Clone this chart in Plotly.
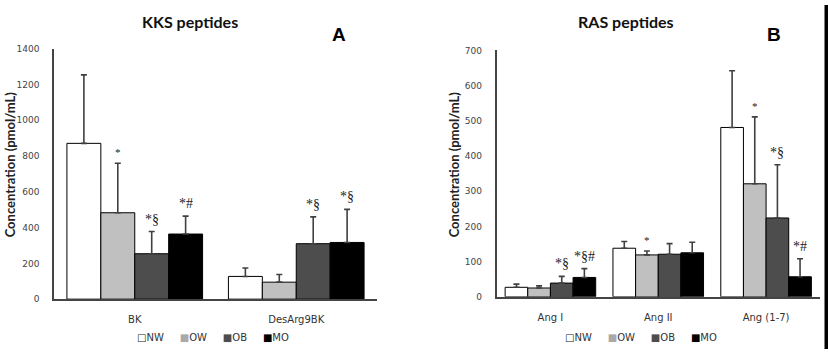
import plotly.graph_objects as go

groups = ["NW", "OW", "OB", "MO"]
colors = ["#ffffff", "#c0c0c0", "#4d4d4d", "#000000"]
legend_glyphs = ["□", "■", "■", "■"]
legend_glyph_colors = ["#222222", "#a9a9a9", "#4d4d4d", "#000000"]

kks_cats = ["BK", "DesArg9BK"]
kks_vals = {"NW": [871, 127], "OW": [483, 95], "OB": [254, 310], "MO": [364, 317]}
kks_err = {"NW": [383, 47], "OW": [277, 43], "OB": [124, 150], "MO": [100, 185]}
kks_sig = {"NW": ["", ""], "OW": ["*", ""], "OB": ["*§", "*§"], "MO": ["*#", "*§"]}

ras_cats = ["Ang I", "Ang II", "Ang (1-7)"]
ras_vals = {"NW": [27, 138, 481], "OW": [25, 119, 321], "OB": [39, 121, 224], "MO": [55, 125, 57]}
ras_err = {"NW": [9, 19, 161], "OW": [6, 11, 190], "OB": [19, 30, 151], "MO": [25, 30, 51]}
ras_sig = {"NW": ["", "", ""], "OW": ["", "*", "*"], "OB": ["*§", "", "*§"], "MO": ["*§#", "", "*#"]}

kks_ticks = [0, 200, 400, 600, 800, 1000, 1200, 1400]
ras_ticks = [0, 100, 200, 300, 400, 500, 600, 700]

BARGAP = 0.16
W = 828
H = 354

fig = go.Figure()

def add_panel(cats, vals, errs, xa, ya):
    for g, c in zip(groups, colors):
        fig.add_trace(go.Bar(
            x=cats, y=vals[g], name=g, marker=dict(color=c, line=dict(color="#000000", width=1)),
            error_y=dict(type="data", array=errs[g], arrayminus=[0] * len(cats), symmetric=False,
                         color="#404040", thickness=1.6, width=3),
            xaxis=xa, yaxis=ya, showlegend=False, offsetgroup=g,
        ))

add_panel(kks_cats, kks_vals, kks_err, "x", "y")
add_panel(ras_cats, ras_vals, ras_err, "x2", "y2")

annotations = []

def add_sig(cats, vals, errs, sigs, xref, yref):
    bw = (1 - BARGAP) / len(groups)
    for i, g in enumerate(groups):
        off = -(1 - BARGAP) / 2 + (i + 0.5) * bw
        for j, c in enumerate(cats):
            s = sigs[g][j]
            if not s:
                continue
            annotations.append(dict(
                x=j + off, y=vals[g][j] + errs[g][j], xref=xref, yref=yref, text=s,
                showarrow=False, yanchor="bottom", xanchor="center", yshift=3,
                font=dict(family="Liberation Serif", size=14 if len(s) > 1 else 11, color="#222222"),
            ))

add_sig(kks_cats, kks_vals, kks_err, kks_sig, "x", "y")
add_sig(ras_cats, ras_vals, ras_err, ras_sig, "x2", "y2")

# legend rows (glyph + group name)
legend_text = "\u00a0" * 5
legend_text = legend_text.join(
    f"<span style='color:{gc}'>{gl}</span>{g}"
    for g, gl, gc in zip(groups, legend_glyphs, legend_glyph_colors)
)
legend_font = dict(family="DejaVu Sans", size=10, color="#333333")

title_font = dict(family="Lato", size=16, color="#111111")
ytitle_font = dict(family="Lato", size=13, color="#222222")
letter_font = dict(family="Liberation Sans", size=19, color="#000000")
annotations += [
    dict(x=190 / W, y=1 - 17 / H, xref="paper", yref="paper", text="<b>KKS peptides</b>",
         showarrow=False, xanchor="center", yanchor="middle", font=title_font),
    dict(x=626 / W, y=1 - 17 / H, xref="paper", yref="paper", text="<b>RAS peptides</b>",
         showarrow=False, xanchor="center", yanchor="middle", font=title_font),
    dict(x=339 / W, y=1 - 30 / H, xref="paper", yref="paper", text="<b>A</b>",
         showarrow=False, xanchor="center", yanchor="middle", font=letter_font),
    dict(x=774 / W, y=1 - 30 / H, xref="paper", yref="paper", text="<b>B</b>",
         showarrow=False, xanchor="center", yanchor="middle", font=letter_font),
    dict(x=10 / W, y=1 - 164 / H, xref="paper", yref="paper", text="<b>Concentration (pmol/mL)</b>",
         textangle=-90, showarrow=False, xanchor="center", yanchor="middle", font=ytitle_font),
    dict(x=454 / W, y=1 - 164 / H, xref="paper", yref="paper", text="<b>Concentration (pmol/mL)</b>",
         textangle=-90, showarrow=False, xanchor="center", yanchor="middle", font=ytitle_font),
    dict(x=213 / W, y=1 - 342 / H, xref="paper", yref="paper", text=legend_text,
         showarrow=False, xanchor="center", yanchor="middle", font=legend_font),
    dict(x=641 / W, y=1 - 342 / H, xref="paper", yref="paper", text=legend_text,
         showarrow=False, xanchor="center", yanchor="middle", font=legend_font),
]

tick_font = dict(family="DejaVu Sans", size=9, color="#444444")
cat_font = dict(family="DejaVu Sans", size=10, color="#333333")

axis_common = dict(showline=True, linecolor="#444444", linewidth=1.5, showgrid=False,
                   zeroline=False, ticks="", fixedrange=True)

fig.update_layout(
    width=W, height=H,
    margin=dict(l=0, r=0, t=0, b=0),
    paper_bgcolor="white", plot_bgcolor="white",
    barmode="group", bargap=BARGAP, bargroupgap=0,
    xaxis=dict(domain=[54 / W, 377 / W], anchor="y", tickfont=cat_font, ticklabelstandoff=10,
               **axis_common),
    yaxis=dict(domain=[1 - 302.7 / H, 1 - 45 / H], anchor="x", range=[0, 1400], tickvals=kks_ticks,
               tickfont=tick_font, ticklabelstandoff=11, **axis_common),
    xaxis2=dict(domain=[496.5 / W, 820 / W], anchor="y2", tickfont=cat_font, ticklabelstandoff=10,
                **axis_common),
    yaxis2=dict(domain=[1 - 300.3 / H, 1 - 46.7 / H], anchor="x2", range=[0, 700], tickvals=ras_ticks,
                tickfont=tick_font, ticklabelstandoff=11, **axis_common),
    annotations=annotations,
    shapes=[dict(type="rect", xref="paper", yref="paper", x0=824.5 / W, x1=1, y0=0, y1=1,
                 fillcolor="#000000", line=dict(width=0))],
    showlegend=False,
)

fig.write_html("out.html")
